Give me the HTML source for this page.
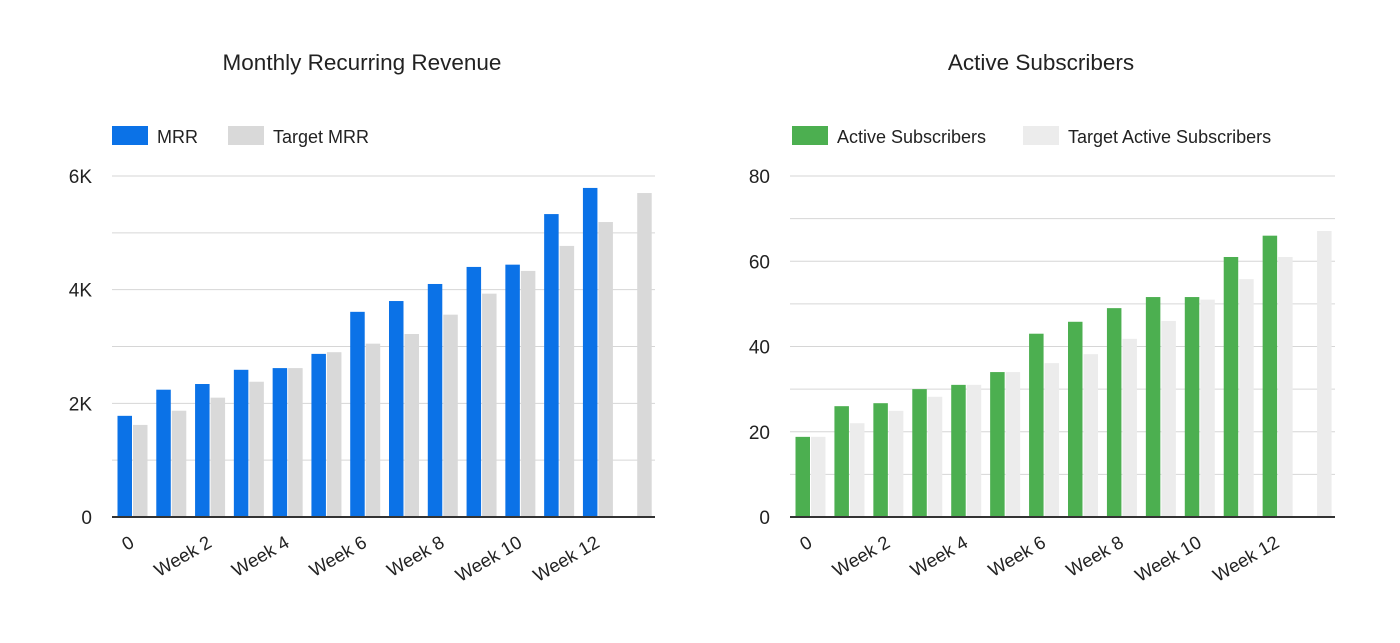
<!DOCTYPE html>
<html><head><meta charset="utf-8"><style>
body{margin:0;background:#fff;width:1400px;height:638px;overflow:hidden;font-family:"Liberation Sans",Arial,sans-serif}
svg text{font-family:"Liberation Sans",Arial,sans-serif;fill:#222}
</style></head><body>
<svg id="s" width="1400" height="638"></svg>
<script>
const categories=["0","Week 1","Week 2","Week 3","Week 4","Week 5","Week 6","Week 7","Week 8","Week 9","Week 10","Week 11","Week 12","Week 13"];
const mrr=[1.78,2.24,2.34,2.59,2.62,2.87,3.61,3.8,4.1,4.4,4.44,5.33,5.79,null];
const targetMrr=[1.62,1.87,2.1,2.38,2.62,2.9,3.05,3.22,3.56,3.93,4.33,4.77,5.19,5.7];
const subs=[18.8,26,26.7,30,31,34,43,45.8,49,51.6,51.6,61,66,null];
const targetSubs=[18.8,22,24.9,28.2,31,34,36.1,38.2,41.8,46,51,55.8,61,67.1];
const mrrTicks=[0,2,4,6];
const mrrTickLabels=["0","2K","4K","6K"];
const subsTicks=[0,20,40,60,80];
const NS="http://www.w3.org/2000/svg";
const svg=document.getElementById('s');
function mk(tag,attrs,parent,text){const e=document.createElementNS(NS,tag);for(const k in attrs)e.setAttribute(k,attrs[k]);if(text!==undefined)e.textContent=text;(parent||svg).appendChild(e);return e;}
function chart(o){
  const g=mk('g',{});
  
  
  const x0=o.x0,x1=o.x1,yTop=176,yBot=517,max=o.max;
  const y=v=>yBot-(v/max)*(yBot-yTop);
  const bw=(x1-x0)/categories.length;
  const t=mk('text',{x:o.titleX,y:70,'text-anchor':'middle','font-size':22.5},g,o.title);
  
  o.legend.forEach((L,i)=>{
    const lg=mk('g',{},g);
    
    mk('rect',{x:L.x,y:126,width:36,height:19,fill:L.c},lg);
    mk('text',{x:L.x+45,y:143,'font-size':18},lg,L.t);
  });
  for(let v=0;v<=max;v+=max/o.gridN){
    const gl=mk('line',{x1:x0,x2:x1,y1:y(v),y2:y(v),stroke:'#d6d6d6','stroke-width':1},g);
    
  }
  o.ticks.forEach((v,i)=>{
    const tl=mk('text',{x:x0-20,y:y(v)+7,'text-anchor':'end','font-size':19},g,o.tickLabels[i]);
    
  });
  categories.forEach((c,i)=>{
    const gx=x0+i*bw;
    [[o.a,o.ca],[o.b,o.cb]].forEach((s,k)=>{
      const v=s[0][i]; if(v==null)return;
      const r=mk('rect',{x:gx+5.5+k*15.5,y:y(v),width:14.5,height:yBot-y(v),fill:s[1]},g);
      
    });
    if(i%2===0){
      const cx=gx+bw/2+4,cy=546;
      const l=mk('text',{x:cx,y:cy,'text-anchor':'end','font-size':18.5,transform:`rotate(-30 ${cx} ${cy})`},g,i===0?"0":c);
      
    }
  });
  const ax=mk('line',{x1:x0,x2:x1,y1:yBot,y2:yBot,stroke:'#333','stroke-width':2},g);
  
}
chart({name:'mrr-chart',x0:112,x1:655,max:6,gridN:6,ticks:mrrTicks,tickLabels:mrrTickLabels,title:'Monthly Recurring Revenue',titleX:362,
  a:mrr,b:targetMrr,ca:'#0b72e7',cb:'#d9d9d9',legend:[{x:112,c:'#0b72e7',t:'MRR'},{x:228,c:'#d9d9d9',t:'Target MRR'}]});
chart({name:'subscribers-chart',x0:790,x1:1335,max:80,gridN:8,ticks:subsTicks,tickLabels:subsTicks.map(String),title:'Active Subscribers',titleX:1041,
  a:subs,b:targetSubs,ca:'#4caf50',cb:'#ececec',legend:[{x:792,c:'#4caf50',t:'Active Subscribers'},{x:1023,c:'#ececec',t:'Target Active Subscribers'}]});
</script>
</body></html>
